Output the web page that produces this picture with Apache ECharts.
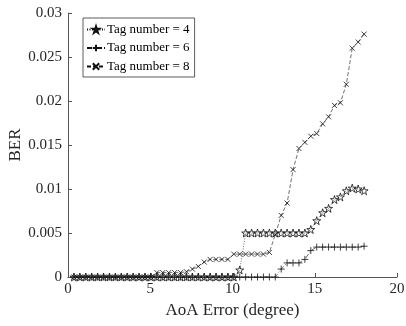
<!DOCTYPE html>
<html><head><meta charset="utf-8">
<script src="https://cdn.jsdelivr.net/npm/echarts@6/dist/echarts.min.js"></script>
<style>html,body{margin:0;padding:0;background:#fff}#c{width:406px;height:326px}</style>
</head><body><div id="c"></div>
<script>
const xValues = [0.36,0.72,1.08,1.44,1.8,2.16,2.52,2.88,3.24,3.6,3.96,4.32,4.68,5.04,5.4,5.76,6.12,6.48,6.84,7.2,7.56,7.92,8.28,8.64,9,9.36,9.72,10.08,10.44,10.8,11.16,11.52,11.88,12.24,12.6,12.96,13.32,13.68,14.04,14.4,14.76,15.12,15.48,15.84,16.2,16.56,16.92,17.28,17.64,18];
const tag4 = [0,0,0,0,0,0,0,0,0,0,0,0,0,0,0,0,0,0,0,0,0,0,0,0,0,0,0,0,0.0008,0.005,0.005,0.005,0.005,0.005,0.005,0.005,0.005,0.005,0.005,0.005,0.0054,0.0064,0.0073,0.0078,0.0088,0.0091,0.0098,0.0101,0.0100,0.0098];
const tag6 = [0,0,0,0,0,0,0,0,0,0,0,0,0,0,0,0,0,0,0,0,0,0,0,0,0,0,0,0,0,0,0,0,0,0,0,0.0009,0.0016,0.0016,0.0016,0.002,0.003,0.0034,0.0034,0.0034,0.0034,0.0034,0.0034,0.0034,0.0034,0.0035];
const tag8 = [0,0,0,0,0,0,0,0,0,0,0,0,0,0,0.0005,0.0005,0.0005,0.0005,0.0005,0.0006,0.0009,0.0012,0.0017,0.002,0.002,0.002,0.002,0.0026,0.0026,0.0026,0.0026,0.0026,0.0026,0.0028,0.0048,0.007,0.0084,0.0122,0.0146,0.0153,0.016,0.0163,0.0174,0.0182,0.0195,0.0198,0.0219,0.026,0.0267,0.0276];
const seriesNames = ['Tag number = 4','Tag number = 6','Tag number = 8'];
const xTicks = [0,5,10,15,20];
const yTicks = [0,0.005,0.01,0.015,0.02,0.025,0.03];

function starPath(){
  let d='path://';
  for(let k=0;k<10;k++){
    const r = (k%2)?19:50;
    const a = (-90+36*k)*Math.PI/180;
    d += (k?'L':'M') + (50+r*Math.cos(a)).toFixed(2)+','+(50+r*Math.sin(a)).toFixed(2);
  }
  return d+'Z';
}
const FONT = 'Liberation Serif';
const TXT = '#262626';
const AX = '#555';
const pair = arr => xValues.map((x,i)=>[x,arr[i]]);
function mk(name, data, symbol, size, dash){
  return {
    name, type:'line', data: pair(data), symbol, symbolSize:size,
    showSymbol:true, animation:false,
    lineStyle:{color:'#111', width:0.6, type:dash},
    itemStyle:{color:'rgba(255,255,255,0)', borderColor:'#111', borderWidth:0.8}
  };
}
const chart = echarts.init(document.getElementById('c'), null, {renderer:'canvas'});
chart.setOption({
  animation:false,
  backgroundColor:'#fff',
  grid:{left:68, right:9, top:13, bottom:49, containLabel:false, outerBoundsMode:'none'},
  legend:{
    left:83, top:18, orient:'vertical',
    backgroundColor:'#fff', borderColor:'#333', borderWidth:0.8, borderRadius:0,
    padding:[5,5,4,3], itemGap:5.5, itemWidth:18, itemHeight:8,
    textStyle:{fontFamily:FONT, fontSize:13, color:'#000', padding:[0,0,0,-3]},
    data: seriesNames
  },
  xAxis:{
    type:'value', min:0, max:20, interval:5,
    name:'AoA Error (degree)', nameLocation:'middle', nameGap:23,
    nameTextStyle:{fontFamily:FONT, fontSize:17, color:TXT},
    axisLine:{show:true, lineStyle:{color:AX, width:1}},
    axisTick:{show:true, inside:true, length:4, lineStyle:{color:AX, width:1}},
    axisLabel:{fontFamily:FONT, fontSize:15, color:TXT, margin:5},
    splitLine:{show:false}
  },
  yAxis:{
    type:'value', min:0, max:0.03, interval:0.005,
    name:'BER', nameLocation:'middle', nameGap:44, nameMoveOverlap:false,
    nameTextStyle:{fontFamily:FONT, fontSize:17, color:TXT},
    axisLine:{show:true, lineStyle:{color:AX, width:1}},
    axisTick:{show:true, inside:true, length:4, lineStyle:{color:AX, width:1}},
    axisLabel:{fontFamily:FONT, fontSize:15, color:TXT, margin:6},
    splitLine:{show:false}
  },
  series:[
    mk(seriesNames[0], tag4, starPath(), 8, [1,1.5]),
    mk(seriesNames[1], tag6, 'path://M0,5L10,5M5,0L5,10', 7, [5,2,1,2]),
    mk(seriesNames[2], tag8, 'path://M0,0L10,10M10,0L0,10', 5, [4,2])
  ]
});
</script></body></html>
